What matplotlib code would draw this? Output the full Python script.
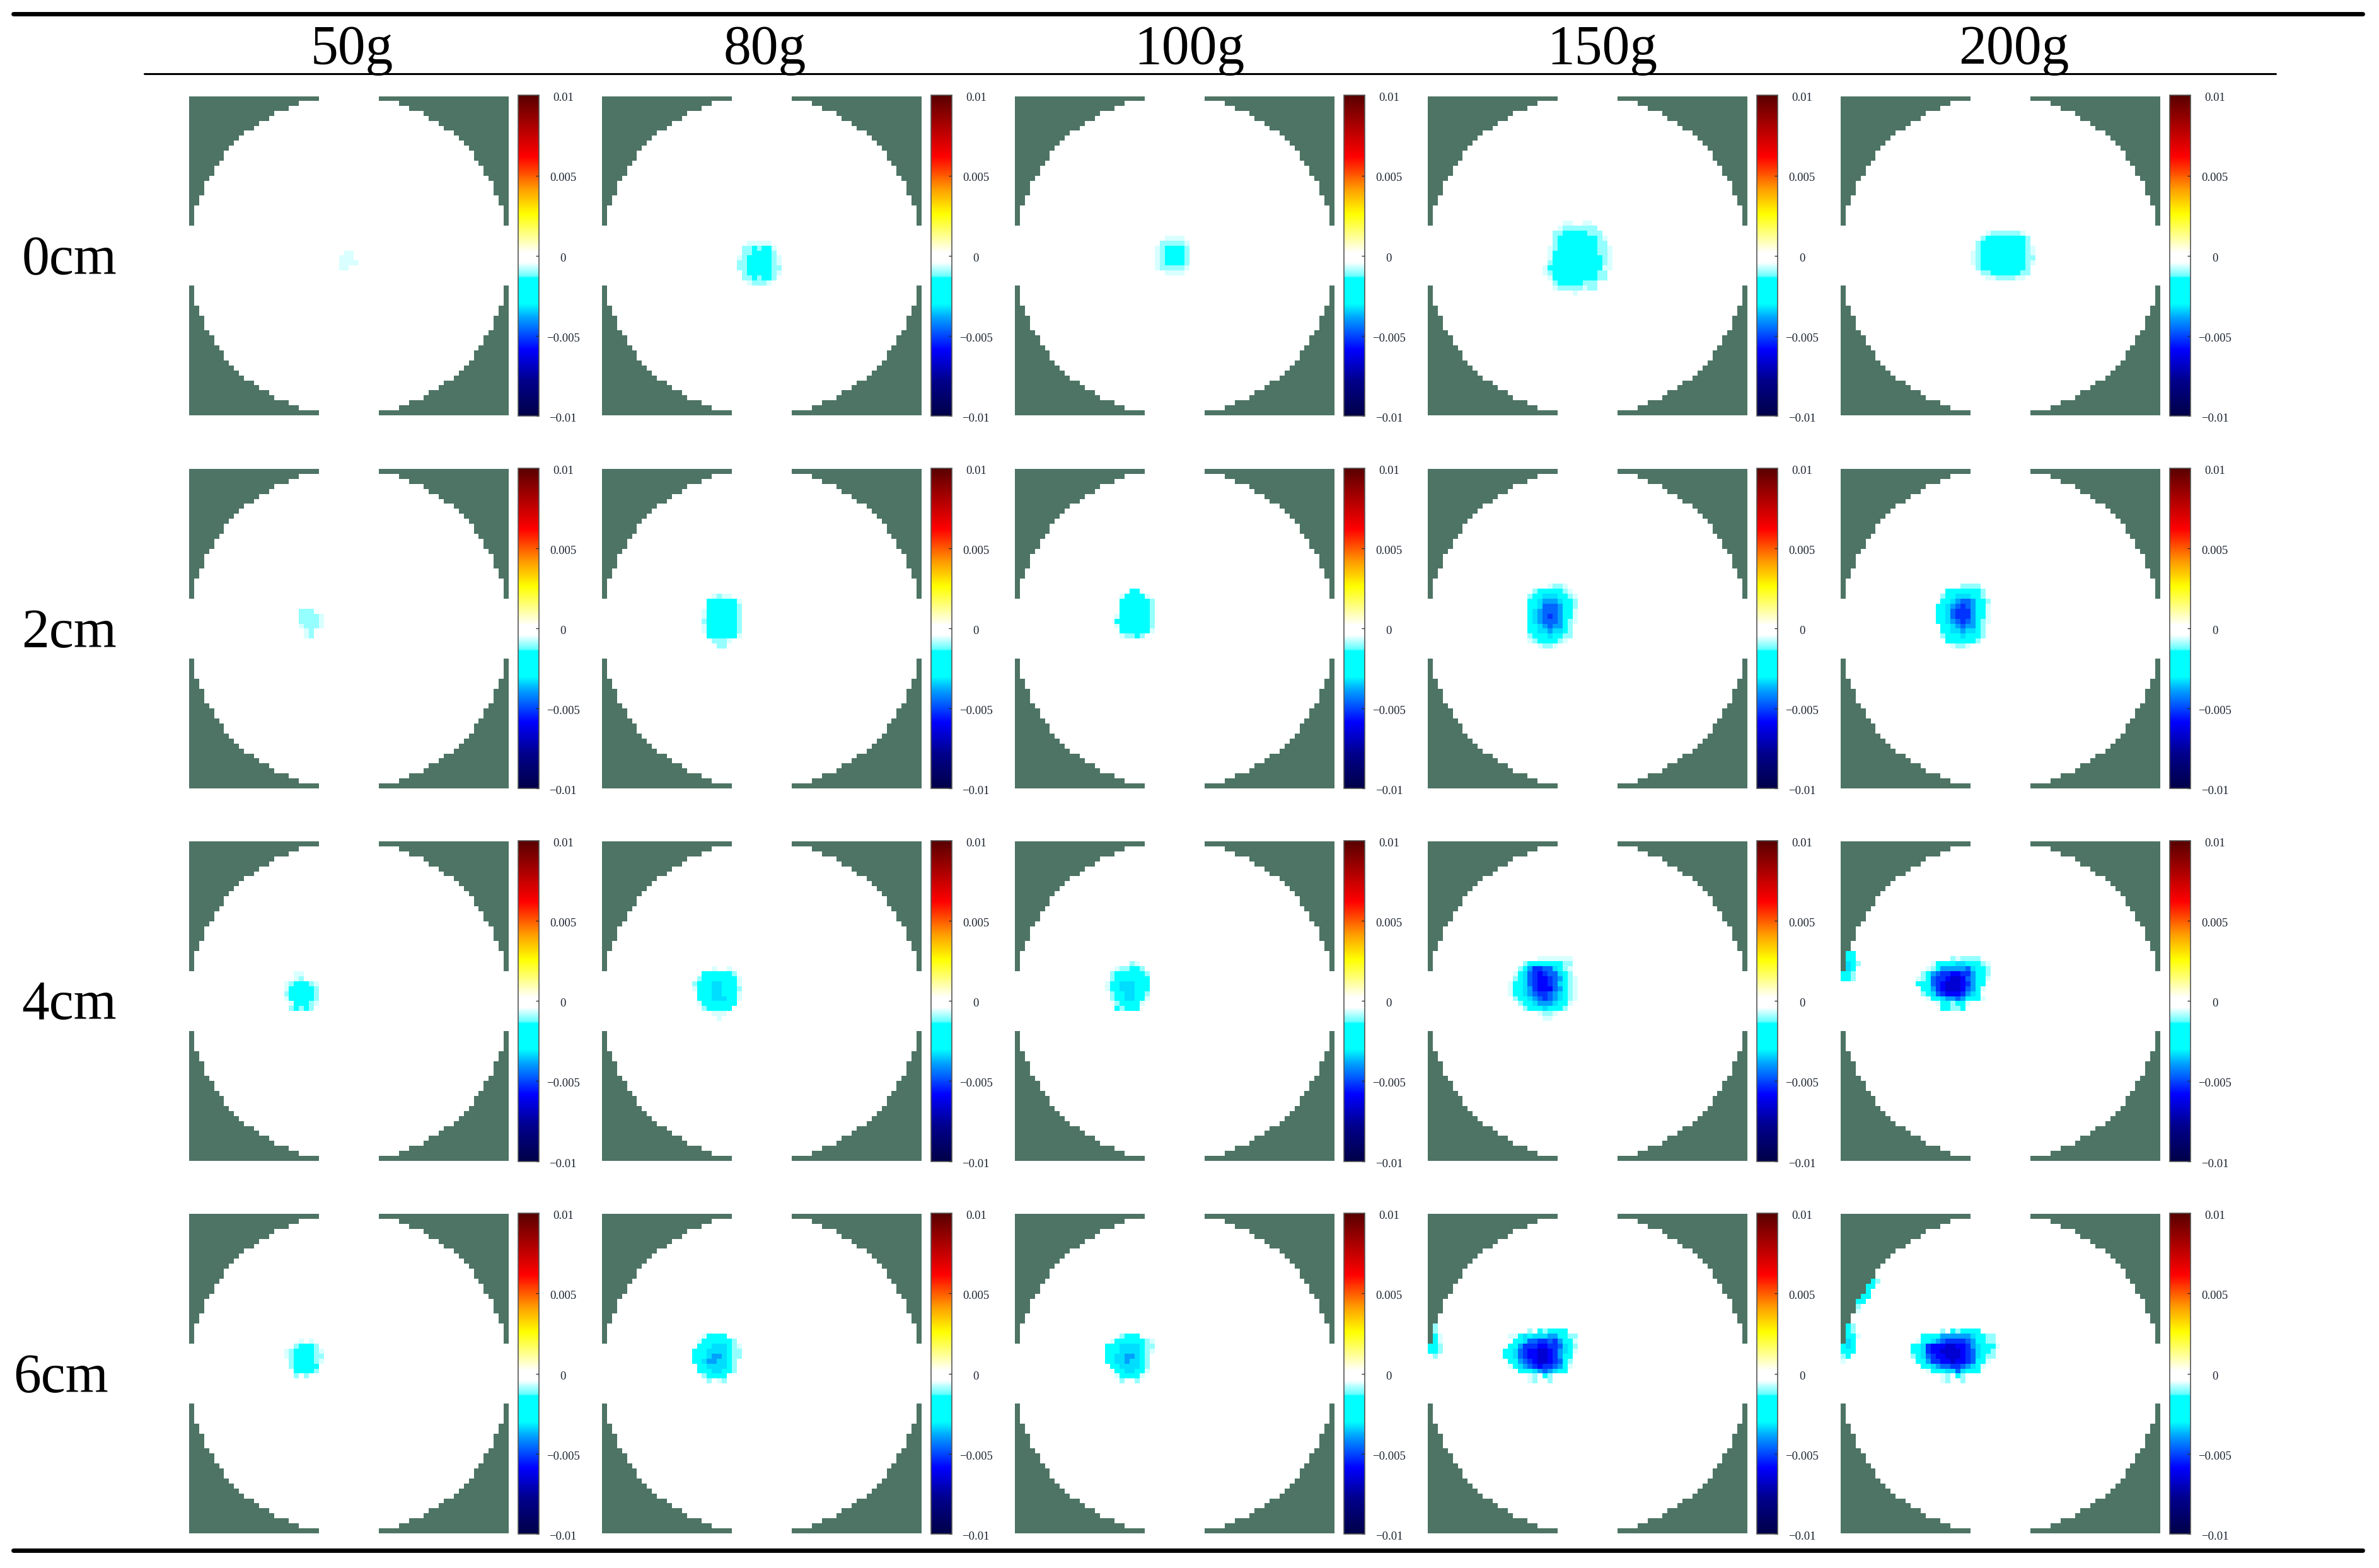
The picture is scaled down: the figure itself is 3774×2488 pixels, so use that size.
import numpy as np
import matplotlib
matplotlib.use('Agg')
import matplotlib.pyplot as plt
from matplotlib.colors import LinearSegmentedColormap, Normalize
from matplotlib.lines import Line2D

plt.rcParams['font.family'] = ['Liberation Serif', 'DejaVu Serif']

col_labels = ['50g', '80g', '100g', '150g', '200g']
row_labels = ['0cm', '2cm', '4cm', '6cm']
cbar_ticks = [0.01, 0.005, 0, -0.005, -0.01]
cbar_tick_labels = ['0.01', '0.005', '0', '\u22120.005', '\u22120.01']

# green cells per row from the left and right edges, top half of the map
green_width = [26, 22, 20, 17, 16, 14, 13, 11, 10, 9, 8, 7, 7, 6, 5, 5, 4, 3, 3, 3, 2, 2, 1, 1, 1, 1]

# pressure: a digit in a row picks one value of level_values
level_values = [0, -0.0006, -0.0010, -0.0020, -0.0033, -0.0039, -0.0046, -0.0052, -0.0058, -0.0066]

# each patch: first map row, first map column, rows of level digits
s_0cm_50g = (31, 30, ['0110', '1110', '1111', '1100'])
s_0cm_80g = (29, 27, ['001111100', '022323310', '022333320', '123333321', '223333321',
                      '223333322', '023333321', '022323320', '001222100'])
s_0cm_100g = (28, 28, ['0011110', '0222221', '1233332', '1233332', '1233332', '1233332',
                       '1222221', '0011110'])
s_0cm_150g = (25, 23, ['00001100110000', '00012222222000', '00223333322200', '00233333333210',
                       '00233333333220', '01233333333221', '01333333333221', '01333333333321',
                       '02333333333321', '13333333333311', '12333333333220', '01333333333220',
                       '00233333222000', '00122222122000', '00000010000000'])
s_0cm_200g = (27, 26, ['0001222222100', '0023333333320', '0233333333320', '0233333333321',
                       '1233333333321', '1233333333322', '1233333333321', '0233333333320',
                       '0022333333220', '0001122221100'])
s_2cm_50g = (28, 22, ['22200', '22221', '22221', '12221', '01200', '01200'])
s_2cm_80g = (25, 20, ['00121100', '03333331', '03333332', '13333332', '13333332', '23333332',
                      '13333332', '13333332', '03333331', '00222100', '00022000'])
s_2cm_100g = (24, 20, ['00033000', '01333310', '03333332', '03333332', '03333332', '13333332',
                       '33333332', '13333332', '03333331', '01223200'])
s_2cm_150g = (23, 18, ['000000122100', '000233333210', '002334443321', '003345554332',
                       '003346665332', '003456665331', '003456765331', '003456665321',
                       '003345655320', '003344544320', '002333433220', '001233332100',
                       '000012210000'])
s_2cm_200g = (23, 19, ['00000222200', '00333333320', '02334443320', '03345665332',
                       '33456765331', '33467775331', '33467775331', '33456765321',
                       '03345655320', '03344544320', '02333433320', '00333333200',
                       '00012210000'])
s_4cm_50g = (26, 19, ['0011000', '0012000', '1233321', '1333332', '2333332', '1333332',
                      '0133321', '0232320'])
s_4cm_80g = (25, 18, ['0000100100', '0033333320', '0233333331', '2333443331', '1333443332',
                      '0333443331', '0333444331', '0133333330', '0023333300', '0000111000',
                      '0000010000'])
s_4cm_100g = (24, 18, ['000002100', '001223320', '023333332', '023333333', '133444333',
                       '133444333', '023344332', '023344331', '002333310', '003233300'])
s_4cm_150g = (23, 16, ['00000011111110', '00023333333220', '00235776643210', '01346787664320',
                       '02346788765321', '13346788764321', '13345788865321', '13345677654321',
                       '02334567654321', '00233455543310', '00023334333200', '00000012210000',
                       '00000001100000'])
s_4cm_200g = (23, 15, ['000000021222200', '000133334433321', '001235555564332', '023567788775332',
                       '123677899865331', '333678999875330', '033578999865310', '023467888754300',
                       '001334556533310', '000013323310000', '000003322300000'])
s_4cm_200g_edge = (22, 0, ['0330', '0330', '0432', '0430', '3320', '3320'])
s_6cm_50g = (25, 19, ['00010100', '00233320', '12333321', '12333322', '02333321', '02333330',
                      '00333320', '00202000'])
s_6cm_80g = (24, 18, ['0013333000', '0133333320', '0333444321', '3334444322', '3334554322',
                      '3345544320', '0334444320', '0333443320', '0023333000', '0002012000'])
s_6cm_100g = (24, 18, ['0002333000', '0133333321', '3334444322', '3334444321', '3344554320',
                       '3344544320', '0334444320', '0033443310', '0013333100', '0002002000'])
s_6cm_150g = (23, 15, ['000002032333300', '011343444553322', '003346677675331', '033577788776432',
                       '334678899875431', '334678899875330', '033567899876320', '013456787765310',
                       '000333456543300', '000001203200000', '000001200200000'])
s_6cm_150g_edge = (22, 0, ['020', '020', '031', '031', '332', '332', '020'])
s_6cm_200g = (23, 14, ['000000203233330000', '003333555555433220', '013345677776533220',
                       '334788899887543331', '334788999987643320', '234678899987643220',
                       '033577889887633100', '003345667765431000', '000133344643330000',
                       '000000120320000000', '000000120020000000'])
s_6cm_200g_diag = (13, 3, ['00032', '00330', '00300', '03300', '33000', '20000', '10000'])
s_6cm_200g_edge = (22, 0, ['0320', '0320', '0331', '0430', '3430', '3330', '2300', '1000'])

patches = [
    [[s_0cm_50g], [s_0cm_80g], [s_0cm_100g], [s_0cm_150g], [s_0cm_200g]],
    [[s_2cm_50g], [s_2cm_80g], [s_2cm_100g], [s_2cm_150g], [s_2cm_200g]],
    [[s_4cm_50g], [s_4cm_80g], [s_4cm_100g], [s_4cm_150g], [s_4cm_200g, s_4cm_200g_edge]],
    [[s_6cm_50g], [s_6cm_80g], [s_6cm_100g], [s_6cm_150g, s_6cm_150g_edge],
     [s_6cm_200g, s_6cm_200g_diag, s_6cm_200g_edge]],
]

W, H = 3774, 2488
N = 64
GREEN = '#4d7464'

cmap = LinearSegmentedColormap.from_list('map', [
    (0.0, '#000048'), (0.11, '#00008c'), (0.207, '#0000ff'), (0.305, '#00a0ff'),
    (0.35, '#00ffff'), (0.43, '#00ffff'), (0.435, '#60ffff'), (0.48, '#ffffff'),
    (0.51, '#ffffff'), (0.63, '#ffff00'), (0.705, '#ffa000'), (0.81, '#ff0000'),
    (1.0, '#580000')], N=512)
cmap.set_bad(GREEN)
norm = Normalize(-0.01, 0.01)


def px_axes(x0, y0, x1, y1):
    return fig.add_axes([x0 / W, 1 - y1 / H, (x1 - x0) / W, (y1 - y0) / H])


def build_map(panel):
    grid = np.zeros((N, N))
    half = np.array(green_width + [0] * 6)
    half = np.concatenate([half, half[::-1]])
    for r in range(N):
        if half[r] > 0:
            grid[r, :half[r]] = np.nan
            grid[r, N - half[r]:] = np.nan
    for top, left, rows in panel:
        for i, row in enumerate(rows):
            for j, ch in enumerate(row):
                if ch != '0':
                    grid[top + i, left + j] = level_values[int(ch)]
    return grid


fig = plt.figure(figsize=(W / 100, H / 100), dpi=100, facecolor='white')

col_step, row_step = 655.1, 591.3
for i in range(len(row_labels)):
    for j in range(len(col_labels)):
        x0 = 300 + j * col_step
        y0 = 152.5 + i * row_step
        ax = px_axes(x0, y0, x0 + 506.5, y0 + 507)
        im = ax.imshow(build_map(patches[i][j]), cmap=cmap, norm=norm, aspect='auto',
                       interpolation='nearest', extent=[0, N, N, 0])
        ax.axis('off')
        cax = px_axes(x0 + 521.6, y0 - 1.2, x0 + 554.6, y0 + 507.6)
        cb = fig.colorbar(im, cax=cax, ticks=cbar_ticks)
        cb.outline.set_edgecolor('#555555')
        cb.outline.set_linewidth(1.2)
        cax.tick_params(axis='y', direction='in', length=3.5, width=0.9, color='#222222',
                        labelright=False)
        for v, lab in zip(cbar_ticks, cbar_tick_labels):
            cax.annotate(lab, xy=(1, v), xycoords=cax.get_yaxis_transform(),
                         xytext=(27.8, -3.2), textcoords='offset points',
                         ha='center', va='center', fontsize=13.5, color='#1c2430')

col_x = [558, 1213, 1887, 2542, 3195]
for x, lab in zip(col_x, col_labels):
    fig.text(x / W, 1 - 101 / H, lab, ha='center', va='baseline', fontsize=63, color='black')

row_x = [110, 110, 110, 97]
row_y = [435, 1027, 1617, 2209]
for x, y, lab in zip(row_x, row_y, row_labels):
    fig.text(x / W, 1 - y / H, lab, ha='center', va='baseline', fontsize=63, color='black')

for y, x0, x1, lw in [(22, 21, 3748, 5), (116.7, 229, 3610, 2.2), (2460, 21, 3748, 5)]:
    fig.add_artist(Line2D([x0 / W, x1 / W], [1 - y / H, 1 - y / H], color='black',
                          linewidth=lw, solid_capstyle='round'))

fig.savefig('out.png', dpi=100, facecolor='white')
